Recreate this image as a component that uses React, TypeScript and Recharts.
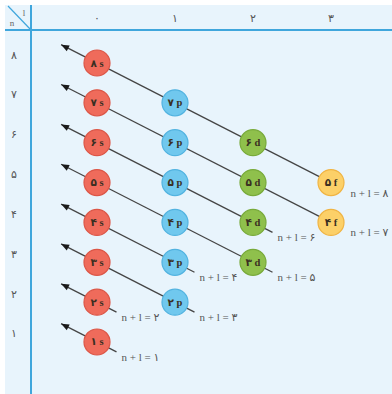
import React from 'react';
import { ScatterChart, Scatter, XAxis, YAxis } from 'recharts';

// orbitals drawn in the diagram
const orbitals = [
  '1s', '2s', '2p', '3s', '3p', '3d', '4s', '4p', '4d', '4f',
  '5s', '5p', '5d', '5f', '6s', '6p', '6d', '7s', '7p', '8s',
];
const shellLetters = ['s', 'p', 'd', 'f'];
const lTicks = [0, 1, 2, 3];
const nTicks = [1, 2, 3, 4, 5, 6, 7, 8];
const diagonalSums = [1, 2, 3, 4, 5, 6, 7, 8];

const W = 392;
const H = 394;
const AXIS_W = 31;
const AXIS_H = 30;
const X_DOMAIN = [-0.846, 3.782];
const Y_DOMAIN = [-0.305, 8.828];

const ARROW_L = -0.46;
const TAIL = 0.25;

const colors: Record<string, { fill: string; stroke: string }> = {
  s: { fill: '#ef6b5b', stroke: '#dc5647' },
  p: { fill: '#70c8ee', stroke: '#52b3e0' },
  d: { fill: '#8fc04c', stroke: '#78aa3a' },
  f: { fill: '#fcd068', stroke: '#f0b443' },
};

const faDigits = '۰۱۲۳۴۵۶۷۸۹';
const fa = (v: number) => String(v).replace(/\d/g, (d) => faDigits[+d]);

const orbitalData = orbitals.map((o) => ({
  n: +o[0],
  l: shellLetters.indexOf(o[1]),
  letter: o[1],
}));

const diagonals = diagonalSums.map((k) => {
  const ls = orbitalData.filter((o) => o.n + o.l === k).map((o) => o.l);
  const lastL = Math.max(...ls);
  const endL = lastL + TAIL;
  return {
    k,
    line: [
      { l: ARROW_L, n: k - ARROW_L },
      { l: lastL === 3 ? lastL : endL, n: k - (lastL === 3 ? lastL : endL) },
    ],
    label: { l: endL, n: k - endL, k, tail: lastL !== 3 },
  };
});

const arrowTips = diagonals.map((d) => d.line[0]);
const labelPoints = diagonals.map((d) => d.label);

// pixel size of one unit step, for the arrow direction
const pxX = (W - AXIS_W) / (X_DOMAIN[1] - X_DOMAIN[0]);
const pxY = (H - AXIS_H) / (Y_DOMAIN[1] - Y_DOMAIN[0]);

const Arrow = ({ cx, cy }: any) => {
  const len = Math.hypot(pxX, pxY);
  const ux = pxX / len;
  const uy = pxY / len;
  const L = 8;
  const w = 3.2;
  const bx = cx + ux * L;
  const by = cy + uy * L;
  return (
    <polygon
      points={`${cx},${cy} ${bx - uy * w},${by + ux * w} ${bx + uy * w},${by - ux * w}`}
      fill="#1a1a1a"
    />
  );
};

const Orbital = ({ cx, cy, payload }: any) => {
  const c = colors[payload.letter];
  return (
    <g>
      <circle cx={cx} cy={cy} r={13} fill={c.fill} stroke={c.stroke} strokeWidth={1.2} />
      <text
        x={cx}
        y={cy}
        textAnchor="middle"
        dominantBaseline="central"
        fontSize={10.5}
        fontWeight="bold"
        fontFamily="'Liberation Serif', 'DejaVu Sans', serif"
        fill="#3a2f22"
      >
        {fa(payload.n)} {payload.letter}
      </text>
    </g>
  );
};

const SumLabel = ({ cx, cy, payload }: any) => (
  <text
    x={cx + (payload.tail ? 5 : 0)}
    y={cy + (payload.tail ? 5 : 0)}
    dominantBaseline="central"
    fontSize={11}
    fontFamily="'Liberation Serif', 'DejaVu Sans', serif"
    fill="#555"
  >
    {`n + l = ${fa(payload.k)}`}
  </text>
);

const XTick = ({ x, y, payload }: any) => (
  <text
    x={x}
    y={y - 4}
    textAnchor="middle"
    dominantBaseline="central"
    fontSize={11}
    fontFamily="'DejaVu Sans', sans-serif"
    fill="#555"
  >
    {fa(payload.value)}
  </text>
);

const YTick = ({ x, y, payload }: any) => (
  <text
    x={x - 9}
    y={y - 8}
    textAnchor="middle"
    dominantBaseline="central"
    fontSize={11}
    fontFamily="'DejaVu Sans', sans-serif"
    fill="#555"
  >
    {fa(payload.value)}
  </text>
);

export default function App() {
  return (
    <div style={{ position: 'absolute', left: 0, top: 0, width: W, height: H, background: '#fff' }}>
      <div style={{ position: 'absolute', left: 5, top: 5, right: 0, bottom: 0, background: '#e8f4fc' }} />
      {/* table frame */}
      <svg width={W} height={H} style={{ position: 'absolute', left: 0, top: 0 }}>
        <line x1={AXIS_W} y1={5} x2={AXIS_W} y2={H} stroke="#3fa6dc" strokeWidth={2} />
        <line x1={5} y1={AXIS_H} x2={W} y2={AXIS_H} stroke="#3fa6dc" strokeWidth={2} />
        <line x1={8} y1={6} x2={AXIS_W} y2={AXIS_H} stroke="#3fa6dc" strokeWidth={1.2} />
        <text x={24} y={13} fontSize={9} fontFamily="'Liberation Serif', serif" fill="#666" textAnchor="middle" dominantBaseline="central">l</text>
        <text x={12} y={23} fontSize={9} fontFamily="'Liberation Serif', serif" fill="#666" textAnchor="middle" dominantBaseline="central">n</text>
      </svg>
      <div style={{ position: 'absolute', left: 0, top: 0 }}>
        <ScatterChart width={W} height={H} margin={{ top: 0, right: 0, bottom: 0, left: 0 }}>
          <XAxis
            type="number"
            dataKey="l"
            orientation="top"
            height={AXIS_H}
            domain={X_DOMAIN}
            ticks={lTicks}
            allowDataOverflow
            axisLine={false}
            tickLine={false}
            tick={<XTick />}
          />
          <YAxis
            type="number"
            dataKey="n"
            width={AXIS_W}
            domain={Y_DOMAIN}
            ticks={nTicks}
            allowDataOverflow
            axisLine={false}
            tickLine={false}
            tick={<YTick />}
          />
          {diagonals.map((d) => (
            <Scatter
              key={d.k}
              data={d.line}
              line={{ stroke: '#454545', strokeWidth: 1.3 }}
              shape={() => <g />}
              isAnimationActive={false}
            />
          ))}
          <Scatter data={arrowTips} shape={<Arrow />} isAnimationActive={false} />
          <Scatter data={orbitalData} shape={<Orbital />} isAnimationActive={false} />
          <Scatter data={labelPoints} shape={<SumLabel />} isAnimationActive={false} />
        </ScatterChart>
      </div>
    </div>
  );
}
